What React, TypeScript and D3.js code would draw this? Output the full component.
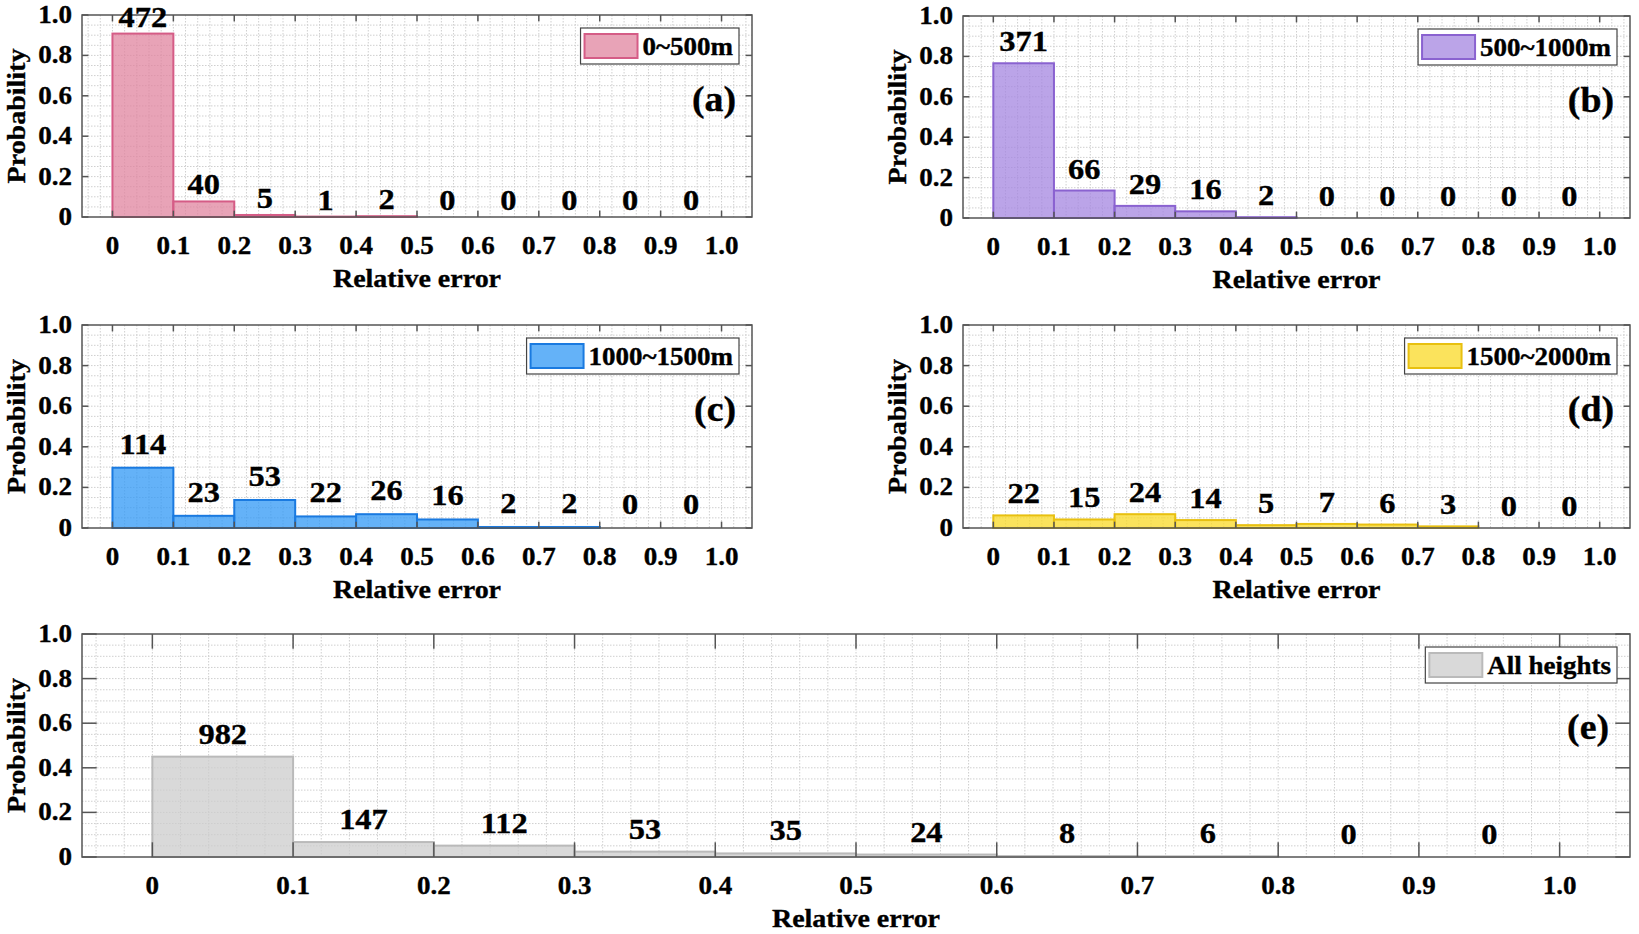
import { useEffect, useRef } from 'react';
import * as d3 from 'd3';

// bin edges of the relative-error histogram
const binEdges = [0, 0.1, 0.2, 0.3, 0.4, 0.5, 0.6, 0.7, 0.8, 0.9, 1.0];
const xTicks = [0, 0.1, 0.2, 0.3, 0.4, 0.5, 0.6, 0.7, 0.8, 0.9, 1.0];
const yTicks = [0, 0.2, 0.4, 0.6, 0.8, 1.0];

const countsA = [472, 40, 5, 1, 2, 0, 0, 0, 0, 0];
const probA = [0.908, 0.077, 0.01, 0.002, 0.004, 0, 0, 0, 0, 0];
const countsB = [371, 66, 29, 16, 2, 0, 0, 0, 0, 0];
const probB = [0.766, 0.136, 0.06, 0.033, 0.004, 0, 0, 0, 0, 0];
const countsC = [114, 23, 53, 22, 26, 16, 2, 2, 0, 0];
const probC = [0.297, 0.06, 0.138, 0.057, 0.068, 0.042, 0.005, 0.005, 0, 0];
const countsD = [22, 15, 24, 14, 5, 7, 6, 3, 0, 0];
const probD = [0.062, 0.042, 0.068, 0.039, 0.014, 0.02, 0.017, 0.008, 0, 0];
const countsE = [982, 147, 112, 53, 35, 24, 8, 6, 0, 0];
const probE = [0.45, 0.067, 0.051, 0.024, 0.016, 0.011, 0.004, 0.003, 0, 0];

const legendNames = ['0~500m', '500~1000m', '1000~1500m', '1500~2000m', 'All heights'];
const panelTags = ['(a)', '(b)', '(c)', '(d)', '(e)'];

type Panel = {
  counts: number[];
  probs: number[];
  name: string;
  tag: string;
  fill: string;
  edge: string;
  box: { l: number; r: number; t: number; b: number };
  tagInset: number;
  labelGap: number;
};

const FONT = '"Liberation Serif", "Times New Roman", serif';
const SX = 1.08; // glyphs in the figure are a little wider than Times

const panels: Panel[] = [
  { counts: countsA, probs: probA, name: legendNames[0], tag: panelTags[0], fill: '#e0849f', edge: '#d55c86', box: { l: 82, r: 752, t: 15, b: 217 }, tagInset: 16, labelGap: 7 },
  { counts: countsB, probs: probB, name: legendNames[1], tag: panelTags[1], fill: '#a485e0', edge: '#8a62d0', box: { l: 963, r: 1630, t: 16, b: 218 }, tagInset: 16, labelGap: 12 },
  { counts: countsC, probs: probC, name: legendNames[2], tag: panelTags[2], fill: '#3098f5', edge: '#1a7ae0', box: { l: 82, r: 752, t: 325, b: 528 }, tagInset: 16, labelGap: 14 },
  { counts: countsD, probs: probD, name: legendNames[3], tag: panelTags[3], fill: '#f9d925', edge: '#e8c010', box: { l: 963, r: 1630, t: 325, b: 528 }, tagInset: 16, labelGap: 12 },
  { counts: countsE, probs: probE, name: legendNames[4], tag: panelTags[4], fill: '#cccccc', edge: '#bababa', box: { l: 82, r: 1630, t: 634, b: 857 }, tagInset: 21, labelGap: 13 },
];

const fmt = (v: number) => (v === 0 ? '0' : v.toFixed(1));

function label(
  g: d3.Selection<SVGGElement, unknown, null, undefined>,
  x: number,
  y: number,
  text: string,
  size: number,
  anchor: string,
  rotate = 0,
  sx = SX,
) {
  return g
    .append('g')
    .attr('transform', `translate(${x},${y}) rotate(${rotate}) scale(${sx},1)`)
    .append('text')
    .attr('text-anchor', anchor)
    .attr('font-family', FONT)
    .attr('font-weight', 'bold')
    .attr('font-size', size)
    .attr('fill', '#000')
    .attr('stroke', '#000')
    .attr('stroke-width', 0.35)
    .text(text);
}

function drawPanel(svg: d3.Selection<SVGSVGElement, unknown, null, undefined>, p: Panel) {
  const { l, r, t, b } = p.box;
  const g = svg.append('g');
  const x = d3.scaleLinear().domain([-0.05, 1.05]).range([l, r]);
  const y = d3.scaleLinear().domain([0, 1]).range([b, t]);
  const tickLen = (r - l) * 0.0095;

  g.append('rect').attr('x', l).attr('y', t).attr('width', r - l).attr('height', b - t).attr('fill', '#fff');

  // dotted grid, minor spacing 0.02 in x and 0.05 in y
  const gx = d3.range(-2, 53).map((i) => i * 0.02).filter((v) => v > -0.05 && v < 1.05);
  const gy = d3.range(1, 20).map((i) => i * 0.05);
  g.selectAll('line.gx')
    .data(gx)
    .join('line')
    .attr('x1', (d) => x(d))
    .attr('x2', (d) => x(d))
    .attr('y1', t)
    .attr('y2', b)
    .attr('stroke', '#cfcfcf')
    .attr('stroke-width', 1)
    .attr('stroke-dasharray', '1.5 1.5');
  g.selectAll('line.gy')
    .data(gy)
    .join('line')
    .attr('x1', l)
    .attr('x2', r)
    .attr('y1', (d) => y(d))
    .attr('y2', (d) => y(d))
    .attr('stroke', '#cfcfcf')
    .attr('stroke-width', 1)
    .attr('stroke-dasharray', '1.5 1.5');

  // histogram bars
  g.selectAll('rect.bar')
    .data(p.probs)
    .join('rect')
    .attr('x', (_, i) => x(binEdges[i]))
    .attr('width', (_, i) => x(binEdges[i + 1]) - x(binEdges[i]))
    .attr('y', (d) => y(d))
    .attr('height', (d) => b - y(d))
    .attr('fill', p.fill)
    .attr('fill-opacity', 0.75)
    .attr('stroke', p.edge)
    .attr('stroke-width', 2);

  // axes box + inward ticks on all sides
  g.append('rect')
    .attr('x', l)
    .attr('y', t)
    .attr('width', r - l)
    .attr('height', b - t)
    .attr('fill', 'none')
    .attr('stroke', '#555')
    .attr('stroke-width', 1.5);
  xTicks.forEach((v) => {
    g.append('line').attr('x1', x(v)).attr('x2', x(v)).attr('y1', b).attr('y2', b - tickLen).attr('stroke', '#555').attr('stroke-width', 1.5);
    g.append('line').attr('x1', x(v)).attr('x2', x(v)).attr('y1', t).attr('y2', t + tickLen).attr('stroke', '#555').attr('stroke-width', 1.5);
    label(g, x(v), b + 37, fmt(v), 25, 'middle');
  });
  yTicks.forEach((v) => {
    g.append('line').attr('x1', l).attr('x2', l + tickLen).attr('y1', y(v)).attr('y2', y(v)).attr('stroke', '#555').attr('stroke-width', 1.5);
    g.append('line').attr('x1', r).attr('x2', r - tickLen).attr('y1', y(v)).attr('y2', y(v)).attr('stroke', '#555').attr('stroke-width', 1.5);
    label(g, l - 10, y(v) + 8, fmt(v), 25, 'end');
  });

  label(g, (l + r) / 2, b + 70, 'Relative error', 25, 'middle', 0, 1.12);
  label(g, l - 57, (t + b) / 2, 'Probability', 25, 'middle', -90, 1.12);

  // count labels above each bin
  p.counts.forEach((c, i) => {
    const cx = x((binEdges[i] + binEdges[i + 1]) / 2);
    label(g, cx, y(p.probs[i]) - p.labelGap, String(c), 30, 'middle');
  });

  // panel tag
  label(g, r - p.tagInset, y(0.575) + 10, p.tag, 35, 'end');

  // legend
  const lg = g.append('g');
  const boxRect = lg.append('rect').attr('fill', '#fff').attr('stroke', '#444').attr('stroke-width', 1.2);
  const txt = label(lg, 0, 0, p.name, 25, 'start');
  const tw = (txt.node() as SVGTextElement).getComputedTextLength() * SX;
  const sw = 53;
  const bw = 4 + sw + 5 + tw + 6;
  const bh = 36;
  const bx = r - 13 - bw;
  const by = t + 13;
  boxRect.attr('x', bx).attr('y', by).attr('width', bw).attr('height', bh);
  lg.append('rect')
    .attr('x', bx + 4)
    .attr('y', by + 6)
    .attr('width', sw)
    .attr('height', bh - 12)
    .attr('fill', p.fill)
    .attr('fill-opacity', 0.75)
    .attr('stroke', p.edge)
    .attr('stroke-width', 2);
  (txt.node()!.parentNode as SVGGElement).setAttribute(
    'transform',
    `translate(${bx + 4 + sw + 5},${by + bh / 2 + 9}) scale(${SX},1)`,
  );
}

export default function App() {
  const ref = useRef<SVGSVGElement>(null);
  useEffect(() => {
    if (!ref.current) return;
    const svg = d3.select(ref.current);
    svg.selectAll('*').remove();
    panels.forEach((p) => drawPanel(svg, p));
  }, []);
  return (
    <svg
      ref={ref}
      width={1639}
      height={934}
      style={{ position: 'absolute', left: 0, top: 0, background: '#fff' }}
    />
  );
}
